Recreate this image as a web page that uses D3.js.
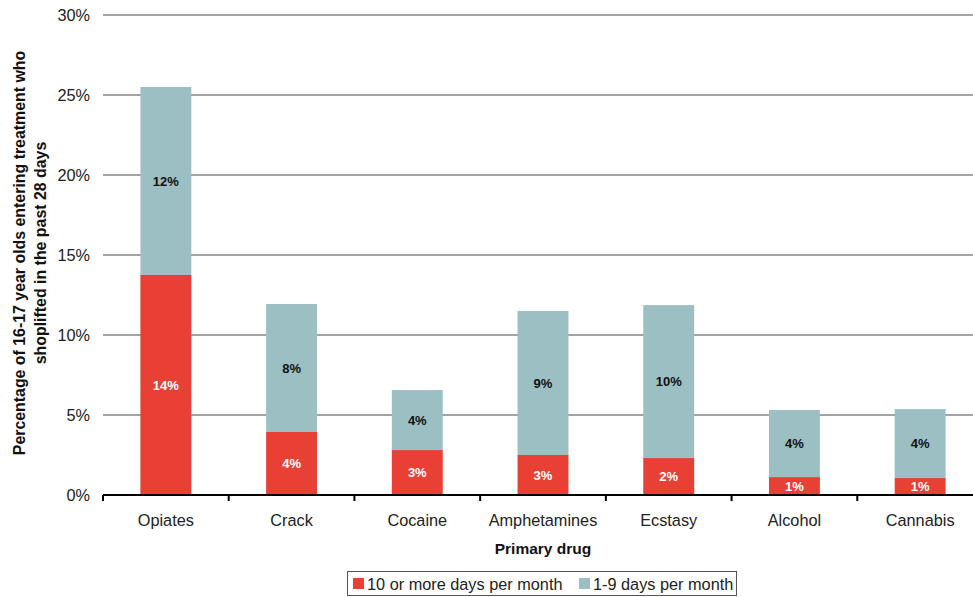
<!DOCTYPE html>
<html>
<head>
<meta charset="utf-8">
<script src="https://cdn.jsdelivr.net/npm/d3@7"></script>
<style>
  html, body { margin: 0; padding: 0; background: #fff; }
  svg { display: block; font-family: "Liberation Sans", Arial, sans-serif; }
</style>
</head>
<body>
<svg id="chart" width="973" height="597"></svg>
<script>
// Primary drug categories
const categories = ["Opiates", "Crack", "Cocaine", "Amphetamines", "Ecstasy", "Alcohol", "Cannabis"];
// Share (%) who shoplifted on 10 or more days per month
const heavyDays = [13.75, 3.94, 2.81, 2.5, 2.31, 1.12, 1.06];
// Share (%) who shoplifted on 1-9 days per month
const lightDays = [11.75, 8.0, 3.75, 9.0, 9.56, 4.19, 4.31];
const seriesNames = ["10 or more days per month", "1-9 days per month"];
const yTicks = [0, 5, 10, 15, 20, 25, 30];

const colors = ["#E84035", "#9BBFC2"];
const labelColors = ["#ffffff", "#111111"];

const svg = d3.select("#chart");
const plot = { left: 103, right: 983, top: 15, bottom: 495 };

const x = d3.scaleBand().domain(categories).range([plot.left, plot.right]).paddingInner(0.595).paddingOuter(0.2975);
const xStep = d3.scaleBand().domain(categories).range([plot.left, plot.right]).padding(0);
const y = d3.scaleLinear().domain([0, 30]).range([plot.bottom, plot.top]);

// Horizontal gridlines
svg.append("g")
  .selectAll("line")
  .data(yTicks.filter(t => t > 0))
  .join("line")
  .attr("x1", plot.left).attr("x2", 973)
  .attr("y1", d => y(d)).attr("y2", d => y(d))
  .attr("stroke", "#a3a3a3").attr("stroke-width", 2);

// Y tick labels
svg.append("g")
  .selectAll("text")
  .data(yTicks)
  .join("text")
  .attr("x", 90).attr("y", d => y(d))
  .attr("dy", "0.36em")
  .attr("text-anchor", "end")
  .attr("font-size", 16.3)
  .attr("fill", "#222")
  .text(d => d + "%");

// Stacked data
const rows = categories.map((c, i) => ({ cat: c, heavy: heavyDays[i], light: lightDays[i] }));
const stack = d3.stack().keys(["heavy", "light"])(rows);

const layers = svg.append("g")
  .selectAll("g")
  .data(stack)
  .join("g")
  .attr("fill", (d, i) => colors[i]);

layers.selectAll("rect")
  .data(d => d)
  .join("rect")
  .attr("x", d => x(d.data.cat))
  .attr("width", x.bandwidth())
  .attr("y", d => y(d[1]))
  .attr("height", d => y(d[0]) - y(d[1]));

// Segment value labels
svg.append("g")
  .selectAll("g")
  .data(stack)
  .join("g")
  .attr("fill", (d, i) => labelColors[i])
  .selectAll("text")
  .data(d => d)
  .join("text")
  .attr("x", d => x(d.data.cat) + x.bandwidth() / 2)
  .attr("y", d => (y(d[0]) + y(d[1])) / 2)
  .attr("dy", "0.36em")
  .attr("text-anchor", "middle")
  .attr("font-size", 13)
  .attr("font-weight", "bold")
  .text(d => d3.format(".0f")(d[1] - d[0]) + "%");

// X axis line with category boundary ticks
const axis = svg.append("g");
axis.append("line")
  .attr("x1", plot.left).attr("x2", 973)
  .attr("y1", plot.bottom).attr("y2", plot.bottom)
  .attr("stroke", "#000").attr("stroke-width", 2);
axis.selectAll("line.tick")
  .data(categories)
  .join("line")
  .attr("class", "tick")
  .attr("x1", d => xStep(d)).attr("x2", d => xStep(d))
  .attr("y1", plot.bottom).attr("y2", plot.bottom + 6)
  .attr("stroke", "#000").attr("stroke-width", 2);

// Category labels
svg.append("g")
  .selectAll("text")
  .data(categories)
  .join("text")
  .attr("x", d => x(d) + x.bandwidth() / 2)
  .attr("y", 520)
  .attr("dy", "0.36em")
  .attr("text-anchor", "middle")
  .attr("font-size", 16.3)
  .attr("fill", "#222")
  .text(d => d);

// Axis titles
svg.append("text")
  .attr("x", 543).attr("y", 548)
  .attr("dy", "0.36em")
  .attr("text-anchor", "middle")
  .attr("font-size", 15.5)
  .attr("font-weight", "bold")
  .attr("fill", "#111")
  .text("Primary drug");

const yTitle = svg.append("text")
  .attr("transform", "translate(0,253) rotate(-90)")
  .attr("text-anchor", "middle")
  .attr("font-size", 15.9)
  .attr("font-weight", "bold")
  .attr("fill", "#111");
yTitle.append("tspan").attr("x", 0).attr("y", 25).text("Percentage of 16-17 year olds entering treatment who");
yTitle.append("tspan").attr("x", 0).attr("y", 46).text("shoplifted in the past 28 days");

// Legend
const legend = svg.append("g");
legend.append("rect")
  .attr("x", 347.5).attr("y", 571.5).attr("width", 389).attr("height", 24)
  .attr("fill", "#fff").attr("stroke", "#555").attr("stroke-width", 1);
const legendItems = [
  { name: seriesNames[0], color: colors[0], x: 353 },
  { name: seriesNames[1], color: colors[1], x: 579 }
];
const li = legend.selectAll("g.item").data(legendItems).join("g").attr("class", "item");
li.append("rect")
  .attr("x", d => d.x).attr("y", 578).attr("width", 11).attr("height", 11)
  .attr("fill", d => d.color);
li.append("text")
  .attr("x", d => d.x + 14).attr("y", 584)
  .attr("dy", "0.36em")
  .attr("font-size", 16.3)
  .attr("fill", "#222")
  .text(d => d.name);
</script>
</body>
</html>
